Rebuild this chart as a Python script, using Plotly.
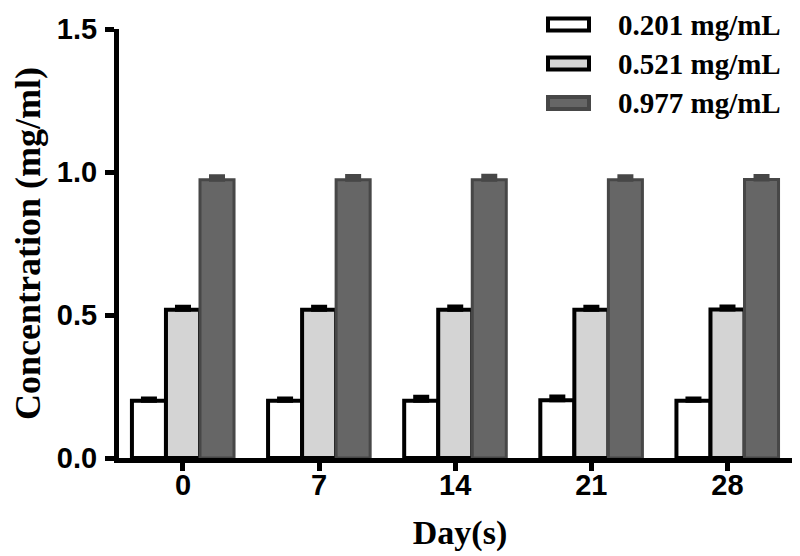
import plotly.graph_objects as go

days = ["0", "7", "14", "21", "28"]
series_names = ["0.201 mg/mL", "0.521 mg/mL", "0.977 mg/mL"]
low_vals = [0.200, 0.200, 0.200, 0.202, 0.200]
low_err = [0.008, 0.008, 0.014, 0.013, 0.008]
mid_vals = [0.518, 0.518, 0.518, 0.518, 0.519]
mid_err = [0.011, 0.011, 0.012, 0.011, 0.011]
high_vals = [0.973, 0.973, 0.973, 0.973, 0.974]
high_err = [0.012, 0.013, 0.014, 0.012, 0.012]

fills = ["#ffffff", "#d4d4d4", "#666666"]
lines = ["#000000", "#000000", "#474747"]
lwidths = [4, 4, 3]

W, H = 800, 556
L, R, T, B = 111, 7, 21, 106

fig = go.Figure()
for name, vals, errs, fc, lc, lw in zip(series_names, [low_vals, mid_vals, high_vals],
                                        [low_err, mid_err, high_err], fills, lines, lwidths):
    fig.add_trace(go.Bar(
        x=days, y=vals, name=name, showlegend=False,
        marker=dict(color=fc, line=dict(color=lc, width=lw)),
        error_y=dict(type="data", array=errs, arrayminus=[0]*len(errs), symmetric=False,
                     color=lc, thickness=4, width=8),
    ))

# manual legend (swatch + label), positioned in paper coordinates
pw, ph = W - L - R, H - T - B
def px_to_paper(x, y):
    return (x - L) / pw, (H - B - y) / ph

serif = "Liberation Serif"
sans = "Liberation Sans"
shapes = []
annotations = []
row_y = [16.5, 55.5, 95]
for i, name in enumerate(series_names):
    x0, y0 = px_to_paper(540, row_y[i] - 6)
    x1, y1 = px_to_paper(581, row_y[i] + 6)
    shapes.append(dict(type="rect", xref="paper", yref="paper", x0=x0, x1=x1, y0=y1, y1=y0,
                       fillcolor=fills[i], line=dict(color=lines[i], width=4)))
    tx, ty = px_to_paper(608, row_y[i])
    annotations.append(dict(text=name, xref="paper", yref="paper", x=tx, y=ty,
                            xanchor="left", yanchor="middle", showarrow=False,
                            font=dict(family=serif, size=29, color="black", weight="bold")))

fig.update_layout(
    width=W, height=H,
    margin=dict(l=L, r=R, t=T, b=B, autoexpand=False),
    paper_bgcolor="white", plot_bgcolor="white",
    barmode="group", bargap=0.25, bargroupgap=0,
    showlegend=False,
    shapes=shapes, annotations=annotations,
    xaxis=dict(range=[-0.47, 4.54], showline=True, linecolor="black", linewidth=5,
               ticks="outside", ticklen=8, tickwidth=5, tickcolor="black",
               ticklabelstandoff=-11,
               tickfont=dict(family=sans, size=29, color="black", weight="bold"),
               title=dict(text="Day(s)", font=dict(family=serif, size=34, color="black", weight="bold"),
                          standoff=22),
               showgrid=False, zeroline=False),
    yaxis=dict(range=[0, 1.5], tickvals=[0, 0.5, 1.0, 1.5], ticktext=["0.0", "0.5", "1.0", "1.5"],
               showline=True, linecolor="black", linewidth=5,
               ticks="outside", ticklen=9, tickwidth=5, tickcolor="black",
               ticklabelstandoff=2,
               tickfont=dict(family=sans, size=29, color="black", weight="bold"),
               title=dict(text="Concentration (mg/ml)", font=dict(family=serif, size=36, color="black", weight="bold"),
                          standoff=8),
               showgrid=False, zeroline=False),
)

fig.write_html("out.html")
